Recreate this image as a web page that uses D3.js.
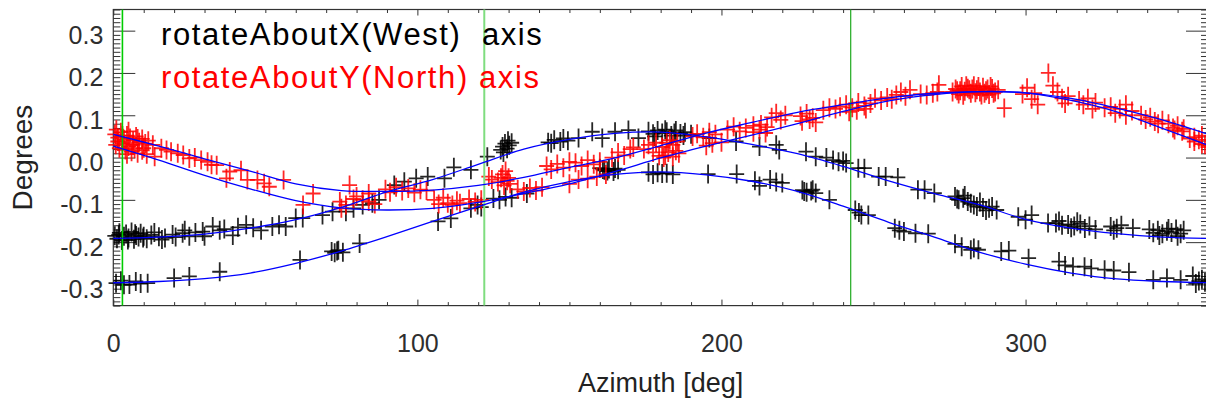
<!DOCTYPE html>
<html>
<head>
<meta charset="utf-8">
<script src="https://cdn.jsdelivr.net/npm/d3@7"></script>
<style>
  body { margin: 0; background: #fff; }
  svg { display: block; }
  text { font-family: "Liberation Sans", Arial, Helvetica, sans-serif; }
</style>
</head>
<body>
<svg id="chart" width="1206" height="402"></svg>
<script>
// ---- axis ticks and labels ----
const azimuthTicks = [0, 100, 200, 300];
const degreeTicks = [-0.3, -0.2, -0.1, 0.0, 0.1, 0.2, 0.3];
const seriesLabels = ["rotateAboutX(West)  axis", "rotateAboutY(North) axis"];
const referenceAzimuths = [3.0, 122, 242.5];

// ---- measured tilt, [azimuth deg, tilt deg] ----
const westUpper = [
  [0.5,-0.185],[1.2,-0.192],[2,-0.178],[2.8,-0.196],[3.5,-0.186],[4.2,-0.181],[5,-0.19],[6,-0.176],
  [6.8,-0.193],[7.5,-0.184],[8.3,-0.188],[9,-0.179],[10,-0.186],[11,-0.192],[12.5,-0.183],[15,-0.187],
  [17,-0.19],[19.5,-0.182],[22.8,-0.179],[25,-0.186],[27,-0.177],[29.4,-0.175],[30,-0.186],[32.7,-0.163],
  [35,-0.172],[36.5,-0.169],[39.3,-0.184],[41,-0.165],[43.7,-0.159],[46,-0.166],[48.6,-0.172],[52.3,-0.163],
  [54.5,-0.159],[56.7,-0.163],[60,-0.143],[62.3,-0.143],[68.8,-0.136],[72.1,-0.128],[76.5,-0.128],[79,-0.12],
  [82,-0.112],[85.2,-0.108],[87.4,-0.1],[92.4,-0.065],[95.7,-0.057],[99.6,-0.049],[103.4,-0.045],[108.9,-0.049],
  [112,-0.023],[117.6,-0.029],[123,0.002],[127.4,0.018],[128,0.026],[128.8,0.033],[129.5,0.021],[130.2,0.029],
  [131,0.035],[143,0.036],[145,0.042],[147,0.038],[149.5,0.04],[153,0.046],[157.5,0.061],[160.8,0.046],
  [165,0.061],[169.4,0.065],[172.7,0.046],[176,0.062],[177.5,0.056],[179,0.064],[180.5,0.058],[182,0.061],
  [183.5,0.052],[185,0.064],[186.5,0.057],[188,0.06],[190,0.055],[196,0.046],[204.8,0.038],[212.5,0.026],
  [218,0.03],[219,0.018],[227.8,0.014],[231,0.002],[234.5,0],[236.7,-0.006],[238.5,-0.01],[240,-0.008],
  [241,-0.013],[245,-0.025],[247,-0.025],[251.7,-0.045],[254,-0.045],[258,-0.047],[264.6,-0.076],[266.8,-0.076],
  [270,-0.084],[276.8,-0.092],[278,-0.1],[279.5,-0.096],[281,-0.104],[282,-0.108],[284,-0.116],[286,-0.118],
  [288,-0.12],[290.5,-0.124],[297.6,-0.14],[300,-0.147],[302,-0.136],[307.4,-0.155],[310,-0.155],[312,-0.16],
  [314,-0.158],[316,-0.162],[318,-0.157],[321,-0.162],[323,-0.17],[328,-0.163],[330,-0.167],[335.3,-0.167],
  [340.7,-0.17],[342,-0.178],[343.5,-0.172],[345,-0.18],[346.5,-0.174],[348,-0.177],[349.5,-0.169],[351,-0.18],
  [1.8,-0.183],[4.8,-0.195],[7.2,-0.18],[9.8,-0.19],[13.5,-0.177],[16,-0.194],[20.5,-0.188],[23.5,-0.172],
  [128.3,0.012],[129.8,0.04],[144,0.034],[148,0.045],[178,0.05],[181.5,0.066],[184.5,0.058],[187.5,0.052],
  [277.5,-0.098],[280,-0.09],[283,-0.112],[285,-0.105],[287,-0.125],[289,-0.116],[311,-0.15],[315,-0.166],
  [317,-0.152],[319.5,-0.168],[329,-0.172],[331.5,-0.16],[344,-0.184],[347,-0.168],[350,-0.186],[352,-0.172]
];
const westLower = [
  [0.9,-0.297],[2.5,-0.291],[3.5,-0.301],[5.3,-0.3],[7.4,-0.293],[9,-0.298],[11.3,-0.297],[20,-0.285],
  [25,-0.281],[35,-0.27],[61.4,-0.242],[71.8,-0.222],[74,-0.219],[75.5,-0.224],[81,-0.203],[106.8,-0.151],
  [111,-0.144],[117.6,-0.12],[119.8,-0.112],[121,-0.117],[125,-0.097],[127,-0.1],[129,-0.093],[131,-0.095],
  [136,-0.085],[160,-0.025],[161.5,-0.03],[163,-0.027],[164.5,-0.033],[166,-0.029],[176,-0.035],[177.5,-0.04],
  [179,-0.036],[180.5,-0.038],[182,-0.037],[184,-0.04],[195.6,-0.039],[205,-0.039],[211,-0.055],[212.5,-0.067],
  [216,-0.052],[218,-0.058],[220,-0.06],[226.6,-0.077],[228,-0.082],[229.5,-0.079],[231,-0.084],[235.5,-0.1],
  [244,-0.124],[245.2,-0.13],[246,-0.136],[248.3,-0.136],[257,-0.167],[258.5,-0.172],[260,-0.175],[263.8,-0.179],
  [268,-0.18],[276.8,-0.204],[279,-0.211],[282,-0.218],[284.5,-0.218],[292,-0.222],[294.5,-0.22],[301,-0.238],
  [311,-0.246],[313,-0.255],[315.6,-0.258],[319.4,-0.258],[321.6,-0.262],[326,-0.265],[329,-0.267],[334,-0.271],
  [342,-0.289],[346.5,-0.285],[351,-0.289],[355,-0.28],[357,-0.292],[359,-0.295],
  [72.8,-0.225],[73.6,-0.221],[161,-0.028],[162.5,-0.032],[165,-0.026],[227.2,-0.08],[230,-0.076],[283,-0.214],
  [356,-0.298],[358,-0.288]
];
const northUpper = [
  [0.5,0.055],[1.5,0.047],[2.5,0.06],[3.5,0.043],[4.5,0.052],[5.5,0.046],[6.5,0.04],[7.5,0.05],
  [8.5,0.036],[9.5,0.044],[10.5,0.033],[15.8,0.022],[19,0.014],[21.2,0.01],[25,-0.002],[26.8,0.0],
  [28.9,-0.006],[31,-0.01],[32.3,-0.017],[38.3,-0.033],[47.4,-0.053],[56,-0.053],[65.7,-0.085],[77.7,-0.065],
  [80,-0.092],[84,-0.085],[89.5,-0.075],[91,-0.082],[93,-0.07],[95,-0.079],[97,-0.073],[99,-0.083],
  [101,-0.076],[103,-0.078],[123.5,-0.045],[124.5,-0.052],[126.5,-0.058],[127.5,-0.048],[128.5,-0.066],[129.5,-0.055],
  [130.5,-0.062],[142.5,-0.02],[144,-0.028],[146,-0.015],[148,-0.024],[150,-0.01],[152,-0.012],[154,-0.02],
  [156,-0.006],[158,-0.016],[160,-0.01],[164,0.0],[166,0.012],[168,0.005],[170,0.02],[171,0.024],
  [174.5,0.02],[176,0.03],[178.5,0.035],[180.5,0.025],[182,0.035],[183,0.041],[184,0.03],[185.5,0.038],
  [190.5,0.05],[192,0.056],[194,0.048],[196,0.06],[198,0.055],[202,0.066],[204,0.073],[206,0.062],
  [208,0.07],[210.5,0.075],[213,0.078],[215,0.072],[216.5,0.095],[218,0.105],[219.5,0.089],[221,0.1],
  [226,0.098],[228,0.104],[230,0.094],[233.5,0.112],[235.5,0.118],[237.5,0.115],[239,0.12],[241,0.125],
  [243,0.118],[245,0.13],[247,0.122],[249,0.128],[250.5,0.14],[252.5,0.135],[254.5,0.142],[256,0.138],
  [257.5,0.148],[259,0.155],[260.5,0.145],[262,0.16],[265.5,0.15],[267.5,0.148],[269.5,0.152],[271,0.155],
  [271.5,0.172],[276,0.155],[277,0.162],[278,0.15],[279,0.168],[280,0.157],[281,0.164],[282,0.152],
  [283,0.17],[284,0.16],[285,0.155],[286,0.166],[287,0.158],[288,0.149],[289,0.163],[290,0.155],
  [291,0.16],[299,0.15],[300.5,0.165],[303,0.152],[307.5,0.2],[309,0.17],[310.5,0.155],[314,0.145],
  [317.6,0.135],[320.5,0.14],[323,0.13],[328,0.12],[331,0.115],[335,0.11],[338,0.1],[341,0.095],
  [343.6,0.08],[347,0.08],[350,0.075],[352,0.068],[355.5,0.048],[358,0.052],
  [1,0.066],[3,0.052],[5,0.062],[8,0.045],[11.5,0.04],[13,0.03],[17.5,0.018],[23,0.006],
  [34,-0.018],[42,-0.03],[278.5,0.158],[280.5,0.17],[282.5,0.162],[284.5,0.168],[286.5,0.152],[288.5,0.168],
  [326,0.118],[333,0.125],[345,0.088],[349,0.065]
];
const northLower = [
  [0.8,0.03],[2,0.022],[3,0.034],[4,0.018],[5,0.026],[6,0.014],[7,0.021],[8,0.01],
  [9.5,0.017],[11,0.008],[13.6,0.002],[37.2,-0.049],[44.1,-0.053],[49.6,-0.061],[51.3,-0.069],[62.4,-0.112],
  [74.5,-0.104],[75,-0.12],[82,-0.1],[86,-0.11],[105.5,-0.1],[107,-0.11],[108.5,-0.095],[110,-0.108],
  [111.5,-0.112],[113,-0.102],[117,-0.098],[119,-0.105],[121,-0.1],[133,-0.075],[135,-0.08],[137,-0.072],
  [139,-0.078],[141,-0.07],[150,-0.062],[153,-0.052],[156,-0.05],[159,-0.045],[162,-0.04],[177.5,0.012],
  [179.5,0.004],[181,0.0],[181.5,0.005],[182.5,0.012],[184,0.002],[185,0.016],[186,0.01],[195,0.028],
  [197,0.034],[200,0.036],[210.5,0.06],[212.5,0.066],[214.5,0.058],[226.5,0.086],[229,0.09],[231,0.083],
  [242,0.108],[244.5,0.112],[247.5,0.115],[277.5,0.158],[279.5,0.147],[281.5,0.16],[283.5,0.153],[285.5,0.148],
  [287.5,0.162],[289.5,0.152],[293,0.117],[302,0.138],[304,0.125],[312,0.14],[313,0.128],[319,0.125],
  [322,0.115],[329.5,0.105],[333,0.1],[339.5,0.09],[342.5,0.085],[348.5,0.07],[351.5,0.062],[354,0.045],
  [355.5,0.038],[357,0.042],[358,0.032],[359,0.03],
  [1.5,0.038],[4.5,0.008],[6.5,0.03],[10,0.022],[76.5,-0.112],[79,-0.098],[84,-0.104],[114,-0.108],
  [128,-0.04],[129,-0.032],[130,-0.048],[360,0.025]
];

// ---- fitted curves sampled every 15 deg ----
const fitAzimuth = [0,15,30,45,60,75,90,105,120,135,150,165,180,195,210,225,240,255,270,285,300,315,330,345,360];
const westUpperFit = [-0.191,-0.188,-0.181,-0.167,-0.147,-0.118,-0.081,-0.052,-0.016,0.020,0.043,0.057,0.060,0.049,0.031,0.009,-0.021,-0.055,-0.085,-0.112,-0.146,-0.167,-0.180,-0.188,-0.191];
const westLowerFit = [-0.296,-0.293,-0.286,-0.273,-0.250,-0.221,-0.187,-0.151,-0.116,-0.082,-0.057,-0.040,-0.034,-0.041,-0.056,-0.080,-0.115,-0.153,-0.188,-0.224,-0.252,-0.273,-0.287,-0.293,-0.296];
const northUpperFit = [0.055,0.027,-0.003,-0.032,-0.062,-0.078,-0.080,-0.077,-0.066,-0.047,-0.023,-0.001,0.028,0.058,0.083,0.107,0.125,0.141,0.152,0.156,0.153,0.140,0.117,0.089,0.055];
const northLowerFit = [0.027,-0.006,-0.042,-0.074,-0.102,-0.119,-0.124,-0.120,-0.106,-0.085,-0.062,-0.033,-0.001,0.027,0.053,0.080,0.109,0.134,0.149,0.156,0.153,0.135,0.108,0.069,0.029];

// ---- layout ----
const svg = d3.select("#chart");
const x = d3.scaleLinear().domain([0, 360]).range([113.3, 1208]);
const y = d3.scaleLinear().domain([-0.35, 0.35]).range([305.6, 9.5]);
const [x0, x1] = x.range();
const [yB, yT] = y.range();

const minorY = d3.range(-35, 36).map(v => v / 100).filter(v => Math.abs(Math.round(v * 100) % 10) !== 0);
const minorX = d3.range(0, 361, 10).filter(v => v % 100 !== 0);
const fmt = d => d.toFixed(1);

const axisColor = "#333";
function styleAxis(g) {
  g.select(".domain").remove();
  g.selectAll(".tick line").attr("stroke", axisColor).attr("stroke-width", 1);
  g.selectAll("text").attr("fill", "#2e2e2e").style("font-size", "25px");
}

// left axis with labels
svg.append("g").attr("transform", `translate(${x0},0)`)
  .call(d3.axisLeft(y).tickValues(degreeTicks).tickFormat(fmt).tickSizeInner(-22).tickSizeOuter(0).tickPadding(10))
  .call(styleAxis)
  .call(g => g.selectAll("text").attr("dy", "0.52em"));
svg.append("g").attr("transform", `translate(${x0},0)`)
  .call(d3.axisLeft(y).tickValues(minorY).tickFormat("").tickSizeInner(-7).tickSizeOuter(0))
  .call(styleAxis);
// right axis
svg.append("g").attr("transform", `translate(${x1},0)`)
  .call(d3.axisRight(y).tickValues(degreeTicks).tickFormat("").tickSizeInner(-22).tickSizeOuter(0))
  .call(styleAxis);
svg.append("g").attr("transform", `translate(${x1},0)`)
  .call(d3.axisRight(y).tickValues(minorY).tickFormat("").tickSizeInner(-7).tickSizeOuter(0))
  .call(styleAxis);
// bottom axis with labels
svg.append("g").attr("transform", `translate(0,${yB})`)
  .call(d3.axisBottom(x).tickValues(azimuthTicks).tickFormat(d3.format("d")).tickSizeInner(-6).tickSizeOuter(0).tickPadding(29))
  .call(styleAxis);
svg.append("g").attr("transform", `translate(0,${yB})`)
  .call(d3.axisBottom(x).tickValues(minorX).tickFormat("").tickSizeInner(-3.5).tickSizeOuter(0))
  .call(styleAxis);
// top axis
svg.append("g").attr("transform", `translate(0,${yT})`)
  .call(d3.axisTop(x).tickValues(azimuthTicks).tickFormat("").tickSizeInner(-6).tickSizeOuter(0))
  .call(styleAxis);
svg.append("g").attr("transform", `translate(0,${yT})`)
  .call(d3.axisTop(x).tickValues(minorX).tickFormat("").tickSizeInner(-3.5).tickSizeOuter(0))
  .call(styleAxis);

// frame
svg.append("rect")
  .attr("x", x0).attr("y", yT).attr("width", x1 - x0).attr("height", yB - yT)
  .attr("fill", "none").attr("stroke", axisColor).attr("stroke-width", 1.2);

// ---- plus markers ----
const plot = svg.append("g");
function crosses(data, color) {
  plot.append("g")
    .selectAll("path").data(data).join("path")
    .attr("d", d => {
      const px = x(d[0]), py = y(d[1]);
      return `M${px - 7.5},${py}H${px + 7.5}M${px},${py - 9.5}V${py + 9.5}`;
    })
    .attr("stroke", color).attr("stroke-width", 1.8).attr("stroke-opacity", 0.85).attr("fill", "none");
}
crosses(westUpper, "#000");
crosses(westLower, "#000");
crosses(northUpper, "#ff0000");
crosses(northLower, "#ff0000");

// ---- reference azimuth lines ----
const refColors = ["#00cc00", "#7fdd7f", "#1faa1f"];
const refWidths = [1.6, 2, 1.2];
plot.append("g").selectAll("line").data(referenceAzimuths).join("line")
  .attr("x1", d => x(d)).attr("x2", d => x(d))
  .attr("y1", yT).attr("y2", yB)
  .attr("stroke", (d, i) => refColors[i]).attr("stroke-width", (d, i) => refWidths[i]);

// ---- fitted curves ----
const line = d3.line().x(d => x(d[0])).y(d => y(d[1])).curve(d3.curveCatmullRom);
[westUpperFit, westLowerFit, northUpperFit, northLowerFit].forEach(fit => {
  plot.append("path")
    .attr("d", line(fitAzimuth.map((a, i) => [a, fit[i]])))
    .attr("fill", "none").attr("stroke", "#0000ff").attr("stroke-width", 1.3);
});

// ---- legend ----
const legendColors = ["#000", "#ff0000"];
svg.append("g").selectAll("text").data(seriesLabels).join("text")
  .attr("x", 161).attr("y", (d, i) => 45 + i * 43)
  .attr("fill", (d, i) => legendColors[i])
  .style("font-size", "31px").style("letter-spacing", "1.6px")
  .style("white-space", "pre")
  .text(d => d);

// ---- axis titles ----
svg.append("text")
  .attr("transform", `translate(32,${(yT + yB) / 2}) rotate(-90)`)
  .attr("text-anchor", "middle").attr("fill", "#222")
  .style("font-size", "28px")
  .text("Degrees");
svg.append("text")
  .attr("x", (x0 + x1) / 2).attr("y", 392)
  .attr("text-anchor", "middle").attr("fill", "#222")
  .style("font-size", "27px")
  .text("Azimuth [deg]");
</script>
</body>
</html>
